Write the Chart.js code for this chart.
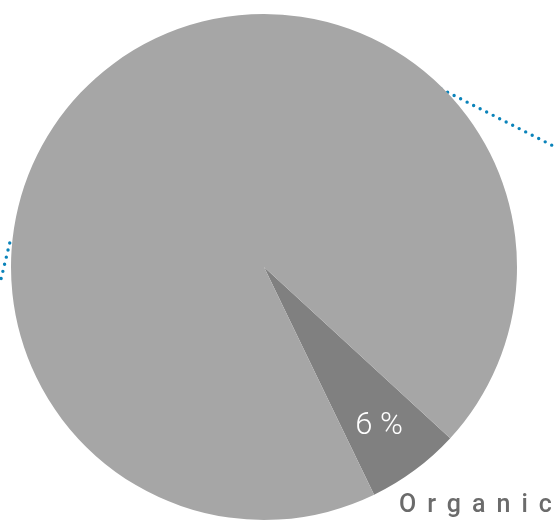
<!DOCTYPE html>
<html>
<head>
<meta charset="utf-8">
<script src="https://cdn.jsdelivr.net/npm/chart.js@4"></script>
<style>
html,body{margin:0;padding:0;background:#fff;}
canvas{display:block;}
</style>
</head>
<body>
<canvas id="c" width="558" height="525"></canvas>
<script>
const categories = ["Organic share", "Other"];
const values = [6, 94];
const sliceColors = ["#808080", "#a6a6a6"];
const sliceLabel = "6 %";
const chartLabel = "Organic";

const decoPlugin = {
  id: 'deco',
  beforeDatasetsDraw(chart) {
    const arc = chart.getDatasetMeta(0).data[0];
    const cx = arc.x, cy = arc.y, r = arc.outerRadius;
    const ctx = chart.ctx;
    ctx.save();
    ctx.strokeStyle = '#0a83ba';
    ctx.lineWidth = 3.4;
    ctx.lineCap = 'round';
    ctx.setLineDash([0, 7.3]);
    // right connector
    ctx.beginPath();
    ctx.moveTo(cx + 0.70 * r, cy - 0.704 * r);
    ctx.lineTo(cx + 1.16 * r, cy - 0.47 * r);
    ctx.stroke();
    // left connector
    ctx.beginPath();
    ctx.moveTo(cx - 1.005 * r, cy - 0.095 * r);
    ctx.lineTo(cx - 1.045 * r, cy + 0.07 * r);
    ctx.stroke();
    ctx.restore();
  },
  afterDatasetsDraw(chart) {
    const ctx = chart.ctx;
    const arc = chart.getDatasetMeta(0).data[0];
    const mid = (arc.startAngle + arc.endAngle) / 2;
    const rr = arc.outerRadius * 0.77;
    const x = arc.x + Math.cos(mid) * rr;
    const y = arc.y + Math.sin(mid) * rr;
    ctx.save();
    ctx.fillStyle = '#ffffff';
    ctx.font = '300 31px Roboto';
    ctx.textAlign = 'center';
    ctx.textBaseline = 'alphabetic';
    ctx.fillText(sliceLabel, x - 1, y + 11);
    ctx.fillStyle = '#6b6b6b';
    ctx.font = '500 25px Roboto';
    ctx.letterSpacing = '11px';
    ctx.textAlign = 'left';
    ctx.fillText(chartLabel, 399, 512);
    ctx.restore();
  }
};

new Chart(document.getElementById('c'), {
  type: 'pie',
  data: {
    labels: categories,
    datasets: [{
      data: values,
      backgroundColor: sliceColors,
      borderWidth: 0
    }]
  },
  options: {
    responsive: false,
    animation: false,
    rotation: 132.6,
    layout: { padding: { left: 11, right: 41, top: 14, bottom: 5 } },
    plugins: {
      legend: { display: false },
      tooltip: { enabled: false },
      title: { display: false }
    }
  },
  plugins: [decoPlugin]
});
</script>
</body>
</html>
